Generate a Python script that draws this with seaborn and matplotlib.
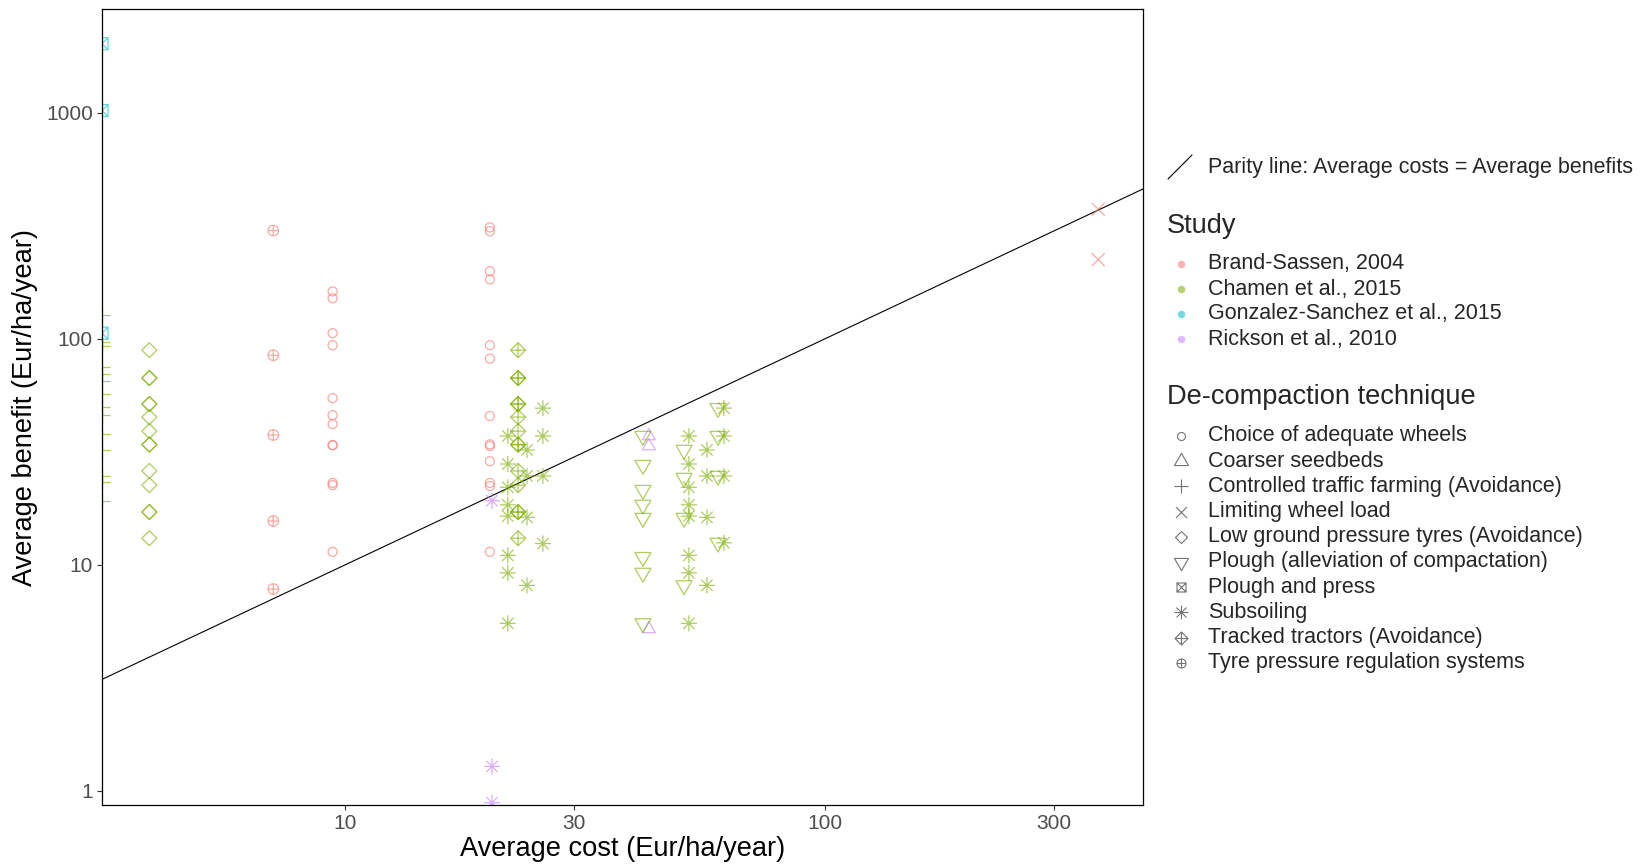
import numpy as np
import pandas as pd
import matplotlib
matplotlib.use('Agg')
import matplotlib.pyplot as plt
from matplotlib.path import Path
from matplotlib.markers import MarkerStyle
from matplotlib.lines import Line2D
from matplotlib.ticker import FixedLocator, NullLocator
import seaborn as sns

# ---------------- data ----------------
studies = ['Brand-Sassen, 2004', 'Chamen et al., 2015',
           'Gonzalez-Sanchez et al., 2015', 'Rickson et al., 2010']
study_colors = ['#F8766D', '#7CAE00', '#00BFC4', '#C77CFF']

techniques = ['Choice of adequate wheels', 'Coarser seedbeds',
              'Controlled traffic farming (Avoidance)', 'Limiting wheel load',
              'Low ground pressure tyres (Avoidance)',
              'Plough (alleviation of compactation)', 'Plough and press',
              'Subsoiling', 'Tracked tractors (Avoidance)',
              'Tyre pressure regulation systems']

# Brand-Sassen, 2004
bs_tyre_cost = 7.07
bs_tyre_benefit = [301, 84.5, 37.5, 15.6, 7.8]
bs_wheels_cost_a = 9.4
bs_wheels_benefit_a = [162, 151, 105.8, 93.6, 54.6, 45.9, 41.9, 33.8, 33.8, 23.0, 22.5, 11.4]
bs_wheels_cost_b = 20.0
bs_wheels_benefit_b = [311, 299, 199, 183, 93.6, 81.7, 45.5, 34.1, 33.5, 28.7, 23.0, 22.3, 11.4]
bs_load_cost = 371
bs_load_benefit = [374, 224]

# Chamen et al., 2015 (cost 0 -> drawn on the panel edge, like -Inf in ggplot)
ch_ctf_cost = 0
ch_ctf_benefit = [128, 96.5, 92.7, 74.8, 69.7, 64.9, 56.9, 49.8, 45.9, 37.9, 32.3, 24.7, 23.3, 19.2]
ch_lgp_cost = 3.9
ch_lgp_benefit = [89, 67, 67, 51.4, 51.4, 45, 39, 34, 34, 26, 22.5, 17.1, 17.1, 13.1]
ch_tracked_cost = 22.9
ch_tracked_benefit = [89, 67, 67, 51.4, 51.4, 45, 39, 34, 34, 26, 22.5, 17.1, 17.1, 13.1]
ch_sub_costs = [21.8, 23.9, 25.8, 52.0, 56.7, 61.5]
ch_sub_benefits = [[37.1, 27.9, 22.0, 18.4, 16.4, 11.0, 9.2, 5.5],
                   [32.2, 24.7, 16.2, 8.1],
                   [49.3, 37.1, 24.7, 12.4],
                   [37.1, 27.9, 22.0, 18.4, 16.4, 11.0, 9.2, 5.5],
                   [32.2, 24.7, 16.2, 8.1],
                   [49.3, 37.1, 24.7, 12.5]]
ch_plough_costs = [41.7, 50.8, 59.8]
ch_plough_benefits = [[37.1, 27.6, 21.4, 18.4, 16.1, 10.8, 9.2, 5.5],
                      [32.2, 24.2, 16.1, 8.1],
                      [49.3, 37.1, 24.7, 12.5]]

# Gonzalez-Sanchez et al., 2015
gs_press_cost = 0
gs_press_benefit = [2022, 1023, 105.8]

# Rickson et al., 2010
ri_sub_cost = 20.2
ri_sub_benefit = [19.2, 1.28, 0.885]
ri_seed_cost = 42.9
ri_seed_benefit = [37.1, 33.5, 5.2]

x_ticks = [10, 30, 100, 300]
y_ticks = [1, 10, 100, 1000]

XMIN, XMAX = 3.107, 460
YMIN, YMAX = 0.864, 2870

rows = []
def add(study, tech, cost, benefits):
    for b in benefits:
        rows.append((study, tech, cost, b))

add(studies[0], techniques[9], bs_tyre_cost, bs_tyre_benefit)
add(studies[0], techniques[0], bs_wheels_cost_a, bs_wheels_benefit_a)
add(studies[0], techniques[0], bs_wheels_cost_b, bs_wheels_benefit_b)
add(studies[0], techniques[3], bs_load_cost, bs_load_benefit)
add(studies[1], techniques[2], ch_ctf_cost, ch_ctf_benefit)
add(studies[1], techniques[4], ch_lgp_cost, ch_lgp_benefit)
add(studies[1], techniques[8], ch_tracked_cost, ch_tracked_benefit)
for c, bl in zip(ch_sub_costs, ch_sub_benefits):
    add(studies[1], techniques[7], c, bl)
for c, bl in zip(ch_plough_costs, ch_plough_benefits):
    add(studies[1], techniques[5], c, bl)
add(studies[2], techniques[6], gs_press_cost, gs_press_benefit)
add(studies[3], techniques[7], ri_sub_cost, ri_sub_benefit)
add(studies[3], techniques[1], ri_seed_cost, ri_seed_benefit)

df = pd.DataFrame(rows, columns=['study', 'technique', 'cost', 'benefit'])
df['cost_plot'] = df['cost'].where(df['cost'] > 0, XMIN)

# ---------------- marker shapes (ggplot shapes 1..10) ----------------
M, L = Path.MOVETO, Path.LINETO
def lines(*segs):
    v, c = [], []
    for (a, b) in segs:
        v += [a, b]; c += [M, L]
    return Path(v, c)

def closed(pts):
    return Path(list(pts) + [pts[0]], [M] + [L] * (len(pts) - 1) + [Path.CLOSEPOLY])

circ = Path.unit_circle()
cross = lines(((-1, 0), (1, 0)), ((0, -1), (0, 1)))
xcross = lines(((-1, -1), (1, 1)), ((-1, 1), (1, -1)))
d = 0.7071
star = lines(((-1, 0), (1, 0)), ((0, -1), (0, 1)), ((-d, -d), (d, d)), ((-d, d), (d, -d)))
diamond = closed([(0, 1), (1, 0), (0, -1), (-1, 0)])
square = closed([(-1, -1), (1, -1), (1, 1), (-1, 1)])
tri_up = closed([(0, 1), (-0.866, -0.5), (0.866, -0.5)])
tri_dn = closed([(0, -1), (0.866, 0.5), (-0.866, 0.5)])

shapes = {
    techniques[0]: (circ, 1.0),
    techniques[1]: (tri_up, 0.866),
    techniques[2]: (cross, 1.0),
    techniques[3]: (xcross, 1.0),
    techniques[4]: (diamond, 1.0),
    techniques[5]: (tri_dn, 0.866),
    techniques[6]: (Path.make_compound_path(square, xcross), 1.0),
    techniques[7]: (star, 1.0),
    techniques[8]: (Path.make_compound_path(diamond, cross), 1.0),
    techniques[9]: (Path.make_compound_path(circ, cross), 1.0),
}
# marker widths in pixels, in the panel and in the legend
plot_px = [9, 13, 16, 13, 15, 16, 12, 16, 15, 10.5]
leg_px = [8, 14, 14, 11, 12, 14, 9, 14, 13, 9]
PX = 100 / 72.0

# ---------------- figure ----------------
sns.set_theme(style='white')
plt.rcParams['font.family'] = ['Liberation Sans', 'DejaVu Sans']

fig = plt.figure(figsize=(16.48, 8.66), dpi=100)
ax = fig.add_axes([102 / 1648, 1 - 805 / 866, (1143 - 102) / 1648, (805 - 9.3) / 866])
ax.set_xscale('log')
ax.set_yscale('log')

ax.axline((1, 1), (100, 100), color='black', lw=0.8, zorder=1)

palette = dict(zip(studies, study_colors))
for i, t in enumerate(techniques):
    sub = df[df['technique'] == t]
    path, frac = shapes[t]
    size_pt = plot_px[i] / frac / PX
    sns.scatterplot(data=sub, x='cost_plot', y='benefit', hue='study',
                    hue_order=studies, palette=palette, marker=MarkerStyle(path),
                    s=size_pt ** 2, alpha=0.62, linewidth=0.9, legend=False, ax=ax)
    coll = ax.collections[-1]
    fc = coll.get_facecolors()
    coll.set_edgecolors(fc)
    coll.set_facecolors('none')
    coll.set_zorder(2)

ax.set_xlim(XMIN, XMAX)
ax.set_ylim(YMIN, YMAX)
ax.xaxis.set_major_locator(FixedLocator(x_ticks))
ax.yaxis.set_major_locator(FixedLocator(y_ticks))
ax.xaxis.set_minor_locator(NullLocator())
ax.yaxis.set_minor_locator(NullLocator())
ax.set_xticklabels([str(v) for v in x_ticks])
ax.set_yticklabels([str(v) for v in y_ticks])
ax.tick_params(axis='both', which='major', length=3.5, width=0.8, color='#333333',
               labelsize=15, labelcolor='#4D4D4D', pad=3, bottom=True, left=True)
for sp in ax.spines.values():
    sp.set_visible(True)
    sp.set_color('black')
    sp.set_linewidth(0.9)

ax.set_xlabel('Average cost (Eur/ha/year)', fontsize=19.6, color='black', labelpad=2)
ax.set_ylabel('Average benefit (Eur/ha/year)', fontsize=19.6, color='black', labelpad=6)

# ---------------- legends (drawn in figure pixels) ----------------
W, H = 1648.0, 866.0
def fx(px): return px / W
def fy(py): return 1 - py / H

key_x, text_x = 1181, 1208
fig.add_artist(Line2D([fx(1168), fx(1192)], [fy(179), fy(155)], color='black',
                      lw=0.8, transform=fig.transFigure))
fig.text(fx(text_x), fy(168), 'Parity line: Average costs = Average benefits',
         fontsize=15.5, va='center', ha='left')

fig.text(fx(1167), fy(226), 'Study', fontsize=19.6, va='center', ha='left')
for i, (s, c) in enumerate(zip(studies, study_colors)):
    yy = 264 + i * 25
    fig.add_artist(Line2D([fx(key_x)], [fy(yy)], marker='o', markersize=7.5 / PX,
                          markerfacecolor=c, markeredgecolor='none', alpha=0.55,
                          transform=fig.transFigure))
    fig.text(fx(text_x), fy(yy), s, fontsize=15.5, va='center', ha='left')

fig.text(fx(1167), fy(397), 'De-compaction technique', fontsize=19.6, va='center', ha='left')
for i, t in enumerate(techniques):
    yy = 436 + i * 25.2
    path, frac = shapes[t]
    fig.add_artist(Line2D([fx(key_x)], [fy(yy)], marker=MarkerStyle(path),
                          markersize=leg_px[i] / frac / PX, markerfacecolor='none',
                          markeredgecolor=(0, 0, 0, 0.55), markeredgewidth=0.8,
                          transform=fig.transFigure))
    fig.text(fx(text_x), fy(yy), t, fontsize=15.5, va='center', ha='left')

fig.savefig('out.png', dpi=100, facecolor='white')
